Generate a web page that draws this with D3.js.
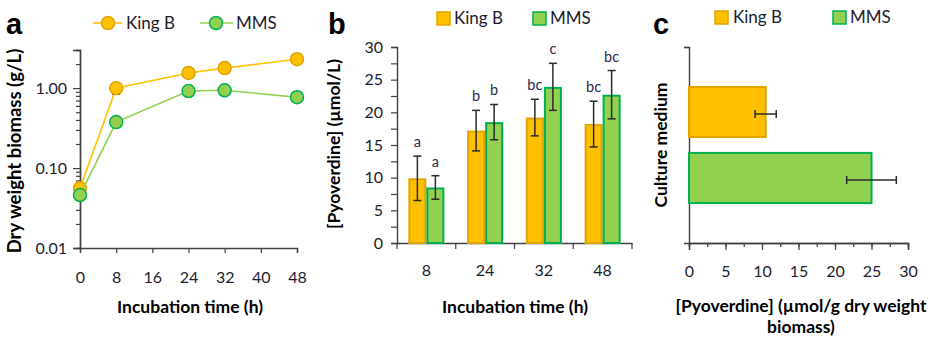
<!DOCTYPE html>
<html><head><meta charset="utf-8">
<script src="https://cdn.jsdelivr.net/npm/d3@7"></script>
<style>
body{margin:0;background:#fff;}
svg{display:block;font-family:Lato,"Open Sans",sans-serif;}
</style></head><body>
<svg id="chart" width="937" height="338"></svg>
<script>
// ---------- DATA ----------
const series = ["King B", "MMS"];
// Panel a: dry weight biomass (g/L), log scale
const timesA = [0, 8, 24, 32, 48];
const biomassKingB = [0.056, 1.0, 1.55, 1.78, 2.3];
const biomassKingBErr = [0.004, 0.16, 0.06, 0.15, 0.08];
const biomassMMS = [0.046, 0.376, 0.92, 0.94, 0.77];
const biomassMMSErr = [0.003, 0.02, 0.04, 0.05, 0.03];
const ticksA_x = [0, 8, 16, 24, 32, 40, 48];
const ticksA_y = [0.01, 0.1, 1];
// Panel b: pyoverdine (µmol/L)
const timesB = ["8", "24", "32", "48"];
const pvdKingB = [9.9, 17.2, 19.2, 18.2];
const pvdKingBErr = [3.4, 3.1, 2.8, 3.5];
const pvdMMS = [8.5, 18.5, 23.9, 22.7];
const pvdMMSErr = [1.8, 2.7, 3.6, 3.7];
const lettersKingB = ["a", "b", "bc", "bc"];
const lettersMMS = ["a", "b", "c", "bc"];
const ticksB_y = [0, 5, 10, 15, 20, 25, 30];
// Panel c: pyoverdine per biomass (µmol/g dry weight biomass)
const mediumC = ["King B", "MMS"];
const pvdPerBiomass = [10.5, 25.0];
const pvdPerBiomassErr = [1.45, 3.4];
const ticksC_x = [0, 5, 10, 15, 20, 25, 30];

// ---------- STYLE ----------
const fill = {"King B": "#FFC000", "MMS": "#92D050"};
const stroke = {"King B": "#E0A400", "MMS": "#00B050"};
const axisCol = "#404040";
const tickTxt = "#1c1c2e";
const svg = d3.select("#chart");

function styleAxis(g){
  g.select(".domain").attr("stroke", axisCol).attr("stroke-width", 1.4);
  g.selectAll(".tick line").attr("stroke", axisCol).attr("stroke-width", 1.2);
  g.selectAll(".tick text").attr("fill", tickTxt).style("font-size", "16px").style("font-family", "Lato, sans-serif");
}
function errBar(g, x1, y1, x2, y2, horizontal, cap){
  g.append("line").attr("x1", x1).attr("y1", y1).attr("x2", x2).attr("y2", y2)
    .attr("stroke", "#2b2b2b").attr("stroke-width", 1.5);
  [[x1,y1],[x2,y2]].forEach(([x,y]) => {
    if (horizontal) g.append("line").attr("x1", x).attr("x2", x).attr("y1", y-cap).attr("y2", y+cap).attr("stroke","#2b2b2b").attr("stroke-width",1.5);
    else g.append("line").attr("x1", x-cap).attr("x2", x+cap).attr("y1", y).attr("y2", y).attr("stroke","#2b2b2b").attr("stroke-width",1.5);
  });
}
function panelLetter(x, t){
  svg.append("text").attr("x", x).attr("y", 34).text(t)
    .style("font-family", "'Liberation Sans', Arial, sans-serif").style("font-weight", "bold").style("font-size", "29px").attr("fill", "#000");
}
function title(x, y, t, rot, size){
  const el = svg.append("text").attr("text-anchor", "middle").style("font-weight", "bold").style("font-size", (size || 17.5) + "px").attr("fill", "#000").text(t);
  if (rot) el.attr("transform", `translate(${x},${y}) rotate(-90)`);
  else el.attr("x", x).attr("y", y);
  return el;
}

// ================= PANEL A =================
{
  const x = d3.scaleLinear().domain([0, 48]).range([80, 297]);
  const y = d3.scaleLog().domain([0.01, 3]).range([248, 50]);
  const minor = [];
  [0.01, 0.1, 1].forEach(d => { for (let k = 2; k <= 9; k++) { const v = d*k; if (v <= 3.0001) minor.push(v); } });
  svg.append("g").attr("transform", "translate(80,0)")
    .call(d3.axisLeft(y).tickValues(minor).tickSize(4).tickFormat(""))
    .call(styleAxis);
  svg.append("g").attr("transform", "translate(80,0)")
    .call(d3.axisLeft(y).tickValues(ticksA_y).tickSize(7).tickPadding(6).tickFormat(d3.format(".2f")))
    .call(styleAxis);
  svg.append("g").attr("transform", "translate(0,248)")
    .call(d3.axisBottom(x).tickValues(ticksA_x).tickSize(5).tickPadding(19))
    .call(styleAxis);

  const sets = [["King B", biomassKingB, biomassKingBErr], ["MMS", biomassMMS, biomassMMSErr]];
  sets.forEach(([name, vals, errs]) => {
    const g = svg.append("g");
    const pts = timesA.map((t, i) => [t, vals[i]]);
    g.append("path").datum(pts)
      .attr("d", d3.line().x(d => x(d[0])).y(d => y(d[1])))
      .attr("fill", "none").attr("stroke", fill[name]).attr("stroke-width", 1.6);
    pts.forEach((p, i) => errBar(g, x(p[0]), y(p[1]+errs[i]), x(p[0]), y(p[1]-errs[i]), false, 4));
    g.selectAll("circle").data(pts).join("circle")
      .attr("cx", d => x(d[0])).attr("cy", d => y(d[1])).attr("r", 6.5)
      .attr("fill", fill[name]).attr("stroke", stroke[name]).attr("stroke-width", 1.5);
  });

  // legend
  const lg = [["King B", 93, 122, 108, 126], ["MMS", 200, 233, 216, 236]];
  lg.forEach(([name, l1, l2, cx, tx]) => {
    svg.append("line").attr("x1", l1).attr("x2", l2).attr("y1", 23).attr("y2", 23).attr("stroke", fill[name]).attr("stroke-width", 1.6);
    svg.append("circle").attr("cx", cx).attr("cy", 23).attr("r", 6.5).attr("fill", fill[name]).attr("stroke", stroke[name]).attr("stroke-width", 1.5);
    svg.append("text").attr("x", tx).attr("y", 29).text(name).style("font-size", "17px").attr("fill", tickTxt);
  });
  panelLetter(6, "a");
  title(190, 313, "Incubation time (h)");
  title(21, 151, "Dry weight biomass (g/L)", true, 18.5);
}

// ================= PANEL B =================
{
  const x0 = d3.scaleBand().domain(timesB).range([397, 632]).padding(0);
  const x1 = d3.scaleBand().domain(series).range([0, x0.bandwidth()]).paddingOuter(0.63).paddingInner(0);
  const y = d3.scaleLinear().domain([0, 30]).range([243, 47]);
  const yt = d3.range(0, 30.01, 2.5);
  svg.append("g").attr("transform", "translate(397,0)")
    .call(d3.axisLeft(y).tickValues(yt).tickSize(6).tickPadding(8).tickFormat(d => d % 5 === 0 ? d : ""))
    .call(styleAxis);
  const gx = svg.append("g").attr("transform", "translate(0,243)")
    .call(d3.axisBottom(x0).tickSize(0).tickPadding(22))
    .call(styleAxis);
  const bounds = timesB.map(d => x0(d)).concat([x0.range()[1]]);
  gx.selectAll(".bnd").data(bounds).join("line").attr("class", "bnd")
    .attr("x1", d => d).attr("x2", d => d).attr("y1", 0).attr("y2", 6)
    .attr("stroke", axisCol).attr("stroke-width", 1.2);

  const sets = [["King B", pvdKingB, pvdKingBErr, lettersKingB], ["MMS", pvdMMS, pvdMMSErr, lettersMMS]];
  sets.forEach(([name, vals]) => {
    const g = svg.append("g");
    timesB.forEach((t, i) => {
      const bx = x0(t) + x1(name);
      g.append("rect").attr("x", bx + 1).attr("y", y(vals[i]) + 1)
        .attr("width", x1.bandwidth() - 2).attr("height", y(0) - y(vals[i]) - 1)
        .attr("fill", fill[name]).attr("stroke", stroke[name]).attr("stroke-width", 2);
    });
  });
  sets.forEach(([name, vals, errs, lets]) => {
    const g = svg.append("g");
    timesB.forEach((t, i) => {
      const cx = x0(t) + x1(name) + x1.bandwidth() / 2;
      errBar(g, cx, y(vals[i] + errs[i]), cx, y(vals[i] - errs[i]), false, 4);
      g.append("text").attr("x", cx).attr("y", y(vals[i] + errs[i]) - 9)
        .attr("text-anchor", "middle").style("font-size", "14.5px").attr("fill", "#2a2a50").text(lets[i]);
    });
  });

  const lg = [["King B", 437, 454], ["MMS", 533, 550]];
  lg.forEach(([name, sx, tx]) => {
    svg.append("rect").attr("x", sx).attr("y", 12).attr("width", 13).attr("height", 13)
      .attr("fill", fill[name]).attr("stroke", stroke[name]).attr("stroke-width", 1.5);
    svg.append("text").attr("x", tx).attr("y", 24).text(name).style("font-size", "17px").attr("fill", tickTxt);
  });
  panelLetter(328, "b");
  title(515, 313, "Incubation time (h)");
  title(340, 144, "[Pyoverdine] (µmol/L)", true);
}

// ================= PANEL C =================
{
  const x = d3.scaleLinear().domain([0, 30]).range([689, 908]);
  const y = d3.scaleBand().domain(mediumC).range([47, 243]).paddingInner(0.21).paddingOuter(0.59);
  svg.append("g").attr("transform", "translate(689,0)")
    .call(d3.axisLeft(d3.scaleLinear().domain([0, 1]).range([243, 47])).tickValues([1]).tickSize(5).tickFormat(""))
    .call(styleAxis);
  svg.append("g").attr("transform", "translate(0,243)")
    .call(d3.axisBottom(x).tickValues(d3.range(0, 30.01, 2.5)).tickSize(4).tickFormat(""))
    .call(styleAxis);
  svg.append("g").attr("transform", "translate(0,243)")
    .call(d3.axisBottom(x).tickValues(ticksC_x).tickSize(7).tickPadding(16))
    .call(styleAxis);

  mediumC.forEach((m, i) => {
    svg.append("rect").attr("x", x(0)).attr("y", y(m) + 1)
      .attr("width", x(pvdPerBiomass[i]) - x(0)).attr("height", y.bandwidth() - 2)
      .attr("fill", fill[m]).attr("stroke", stroke[m]).attr("stroke-width", 2);
    const cy = y(m) + y.bandwidth() / 2 + 2;
    errBar(svg, x(pvdPerBiomass[i] - pvdPerBiomassErr[i]), cy, x(pvdPerBiomass[i] + pvdPerBiomassErr[i]), cy, true, 4);
  });

  const lg = [["King B", 715, 733], ["MMS", 833, 850]];
  lg.forEach(([name, sx, tx]) => {
    svg.append("rect").attr("x", sx).attr("y", 11).attr("width", 13).attr("height", 13)
      .attr("fill", fill[name]).attr("stroke", stroke[name]).attr("stroke-width", 1.5);
    svg.append("text").attr("x", tx).attr("y", 23).text(name).style("font-size", "17px").attr("fill", tickTxt);
  });
  panelLetter(653, "c");
  title(667, 145, "Culture medium", true);
  title(801, 312, "[Pyoverdine] (µmol/g dry weight");
  title(801, 333, "biomass)");
}
</script>
</body></html>
